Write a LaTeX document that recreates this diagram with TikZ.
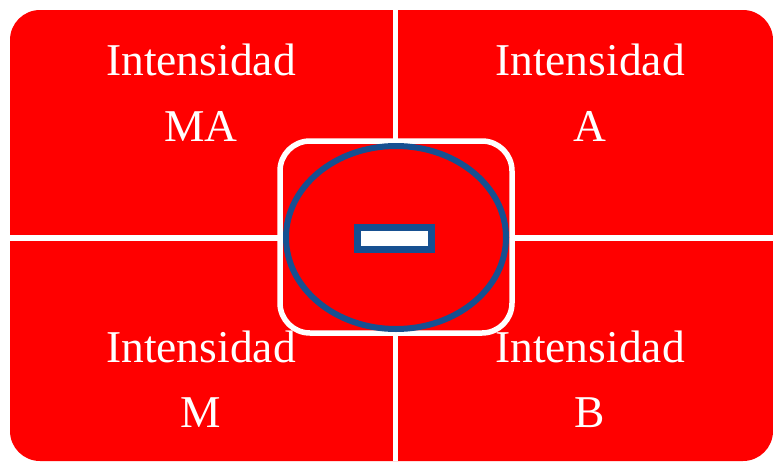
\documentclass[tikz,border=0pt]{standalone}
\usepackage{fontspec}
\setmainfont{Liberation Serif}
\usetikzlibrary{shapes,positioning}
\definecolor{rojo}{RGB}{255,0,0}
\definecolor{azul}{RGB}{22,80,145}

\tikzset{
  etiqueta/.style={text=white, anchor=base, inner sep=0pt,
    font=\fontsize{45.5}{55}\selectfont},
  separador/.style={white, line width=5.6pt},
  centro/.style={draw=white, fill=rojo, line width=5.5pt, rounded corners=30pt,
    minimum width=232pt, minimum height=192pt, inner sep=0pt},
  anillo/.style={ellipse, draw=azul, line width=6pt,
    minimum width=220pt, minimum height=183pt, inner sep=0pt},
  menos/.style={draw=azul, fill=white, line width=7pt,
    minimum width=74pt, minimum height=22pt, inner sep=0pt}
}

\begin{document}
\begin{tikzpicture}[x=1pt, y=-1pt]
\useasboundingbox (0,0) rectangle (773,461);

% fondo y cuadrantes
\fill[rojo, rounded corners=30pt] (10,10) rectangle (773,461);
\draw[separador] (395.5,10) -- (395.5,461);
\draw[separador] (10,238) -- (773,238);

% textos
\node[etiqueta] (ma1) at (201,75) {Intensidad};
\node[etiqueta] (ma2) at (201,141) {MA};
\node[etiqueta] (a1) at (590,75) {Intensidad};
\node[etiqueta] (a2) at (590,141) {A};
\node[etiqueta] (m1) at (201,362) {Intensidad};
\node[etiqueta] (m2) at (201,427) {M};
\node[etiqueta] (b1) at (590,362) {Intensidad};
\node[etiqueta] (b2) at (590,427) {B};

% centro
\node[centro] (cuadro) at (396,237) {};
\node[anillo] (elipse) at (396,237.5) {};
\node[menos] (signo) at (394.5,238.5) {};

\end{tikzpicture}
\end{document}
